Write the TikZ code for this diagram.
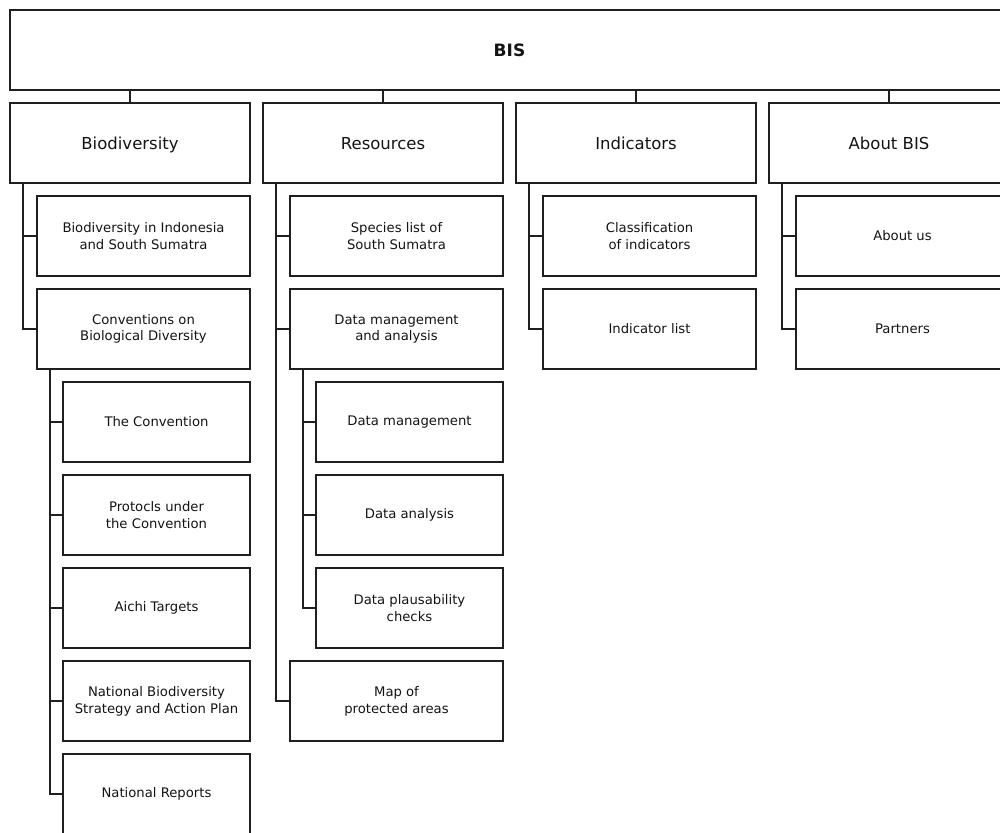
\documentclass[tikz,border=0pt]{standalone}
\usepackage{fontspec}
\setmainfont{DejaVu Sans}
\begin{document}
\begin{tikzpicture}[x=1pt,y=-1pt,
  box/.style={draw=black!88, line width=1.4pt, fill=white, minimum height=80pt,
    inner sep=0pt, outer sep=0pt, align=center, text=black!92},
  rootbox/.style={box, minimum width=999pt, font=\fontsize{17}{20}\selectfont\bfseries},
  topbox/.style={box, minimum width=240pt, text depth=0pt, font=\fontsize{16.5}{20}\selectfont},
  subbox/.style={box, minimum width=213pt, font=\fontsize{13.2}{16.7}\selectfont},
  leafbox/.style={box, minimum width=187pt, font=\fontsize{13.2}{16.7}\selectfont},
  link/.style={draw=black!88, line width=1.2pt}]
\useasboundingbox (0,0) rectangle (1000,832);

% root
\node[rootbox] (bis) at (509.5,50) {BIS};

% first level
\node[topbox] (bio) at (130,143) {Biodiversity};
\node[topbox] (res) at (383,143) {Resources};
\node[topbox] (ind) at (636,143) {Indicators};
\node[topbox] (abt) at (889,143) {About BIS};

% Biodiversity branch
\node[subbox] (bioindo) at (143.5,236) {Biodiversity in Indonesia\\and South Sumatra};
\node[subbox] (cbd) at (143.5,329) {Conventions on\\Biological Diversity};
\node[leafbox] (conv) at (156.5,422) {The Convention};
\node[leafbox] (prot) at (156.5,515) {Protocls under\\the Convention};
\node[leafbox] (aichi) at (156.5,608) {Aichi Targets};
\node[leafbox] (nbsap) at (156.5,701) {National Biodiversity\\Strategy and Action Plan};
\node[leafbox] (natrep) at (156.5,794) {National Reports};

% Resources branch
\node[subbox] (species) at (396.5,236) {Species list of\\South Sumatra};
\node[subbox] (datama) at (396.5,329) {Data management\\and analysis};
\node[leafbox] (dman) at (409.5,422) {Data management};
\node[leafbox] (danal) at (409.5,515) {Data analysis};
\node[leafbox] (dplaus) at (409.5,608) {Data plausability\\checks};
\node[subbox] (map) at (396.5,701) {Map of\\protected areas};

% Indicators branch
\node[subbox] (classif) at (649.5,236) {Classification\\of indicators};
\node[subbox] (indlist) at (649.5,329) {Indicator list};

% About branch
\node[subbox] (aboutus) at (902.5,236) {About us};
\node[subbox] (partners) at (902.5,329) {Partners};

% root to first level
\foreach \n in {bio,res,ind,abt}
  \draw[link] (\n.north) -- (\n.north |- bis.south);

% parent to children: spine 13pt in from the parent's left edge
\foreach \p/\c in {bio/bioindo, bio/cbd,
                   cbd/conv, cbd/prot, cbd/aichi, cbd/nbsap, cbd/natrep,
                   res/species, res/datama, res/map,
                   datama/dman, datama/danal, datama/dplaus,
                   ind/classif, ind/indlist,
                   abt/aboutus, abt/partners}
  \draw[link] ([xshift=13pt]\p.south west) |- (\c.west);
\end{tikzpicture}
\end{document}
